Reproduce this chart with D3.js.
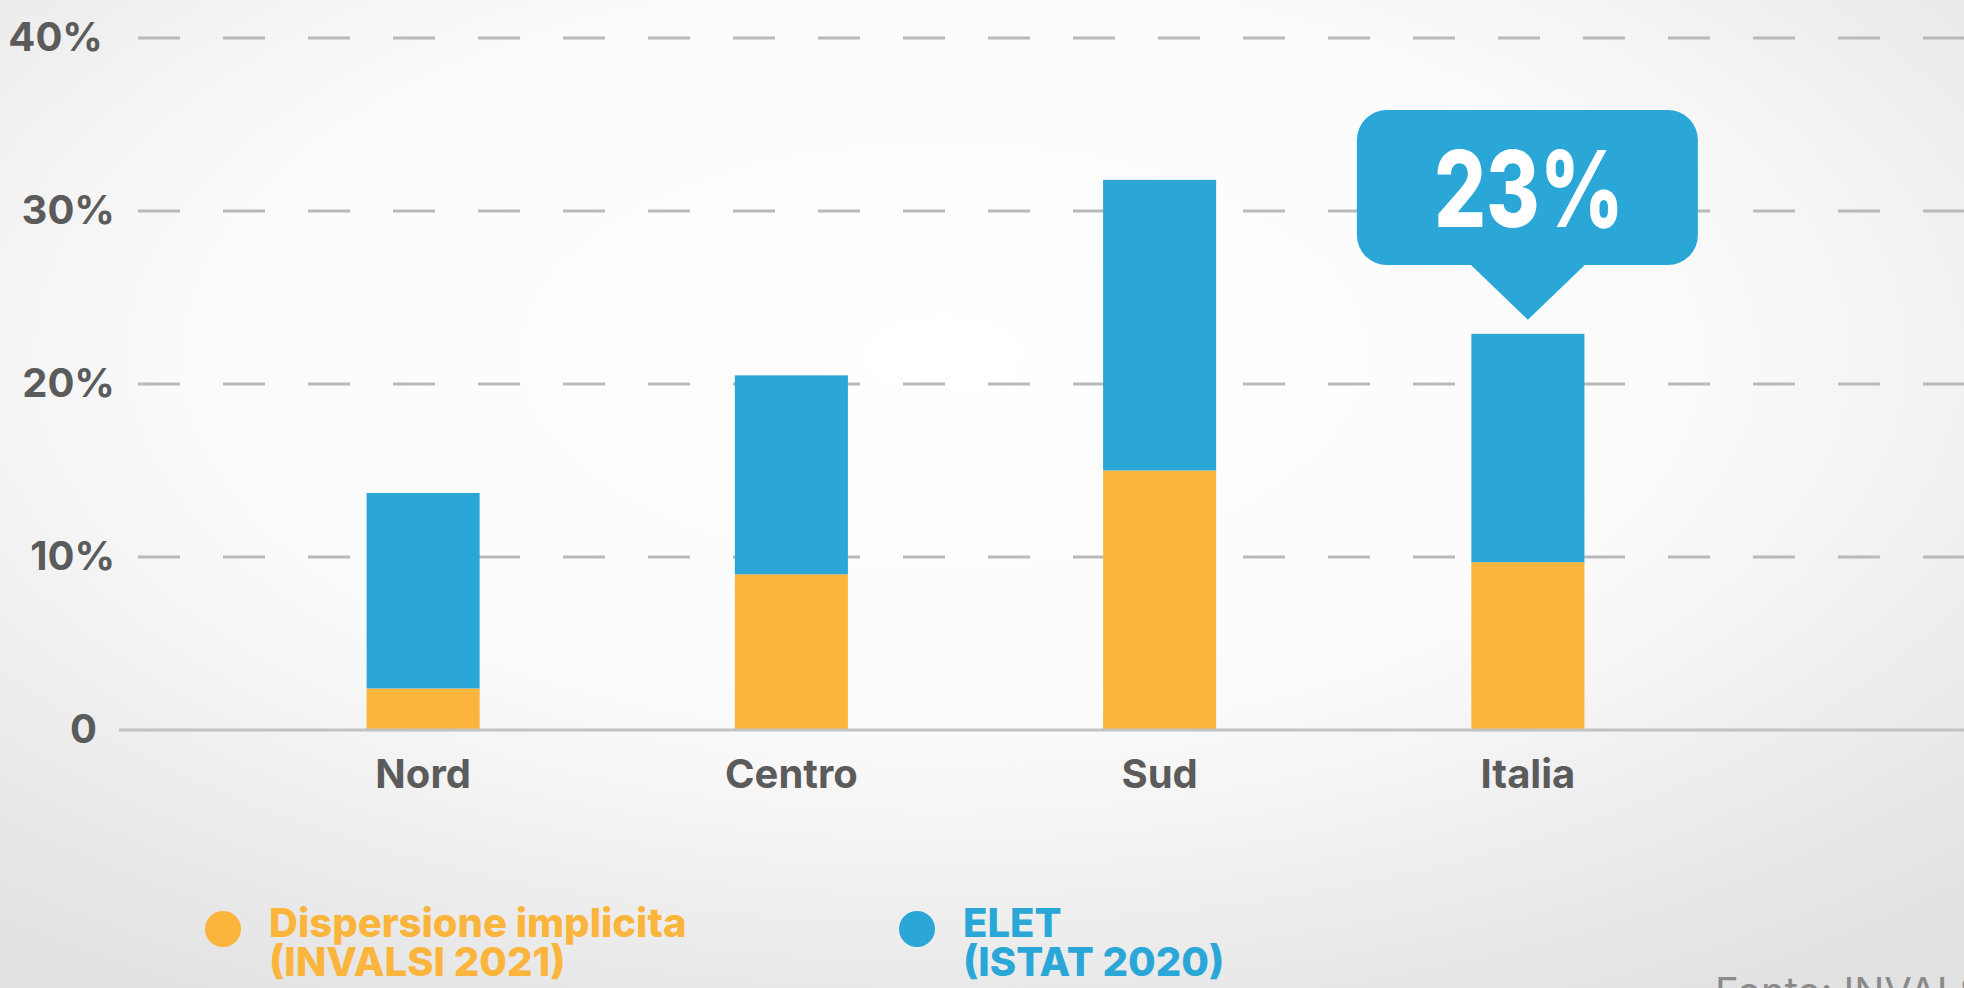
<!DOCTYPE html>
<html>
<head>
<meta charset="utf-8">
<script src="https://cdn.jsdelivr.net/npm/d3@7"></script>
<style>
  html, body { margin: 0; padding: 0; overflow: hidden; }
  svg { display: block; font-family: Inter, "Noto Sans", sans-serif; }
</style>
</head>
<body>
<svg width="1964" height="988"></svg>
<script>
const svg = d3.select("svg");
const larghezza = 1964;
const altezza = 988;

// dati
const aree = ["Nord", "Centro", "Sud", "Italia"];
const dispersioneImplicita = [2.4, 9.0, 15.0, 9.7];   // INVALSI 2021
const elet = [11.3, 11.5, 16.8, 13.2];                 // ISTAT 2020
const tickY = [0, 10, 20, 30, 40];
const etichettaTotale = "23%";
const legenda = [
  { righe: ["Dispersione implicita", "(INVALSI 2021)"], colore: "#fbb53c" },
  { righe: ["ELET", "(ISTAT 2020)"], colore: "#2aa7d6" }
];
const fonte = "Fonte: INVALSI, ISTAT";

const arancio = "#fbb53c";
const blu = "#2aa7d6";

// sfondo grigio chiaro con centro bianco
const defs = svg.append("defs");
const grad = defs.append("radialGradient")
  .attr("id", "sfondo")
  .attr("cx", "48%").attr("cy", "36%").attr("r", "75%");
grad.append("stop").attr("offset", "0%").attr("stop-color", "#ffffff");
grad.append("stop").attr("offset", "50%").attr("stop-color", "#fbfbfb");
grad.append("stop").attr("offset", "100%").attr("stop-color", "#e2e2e2");
svg.append("rect").attr("width", larghezza).attr("height", altezza).attr("fill", "url(#sfondo)");

// scale
const x = d3.scaleBand().domain(aree).range([239, 1712]).paddingInner(0.693).paddingOuter(0.3465);
const y = d3.scaleLinear().domain([0, 40]).range([730, 38]);

// griglia tratteggiata
svg.append("g")
  .selectAll("line")
  .data(tickY.filter(d => d > 0))
  .join("line")
  .attr("x1", 138)
  .attr("x2", larghezza)
  .attr("y1", d => y(d))
  .attr("y2", d => y(d))
  .attr("stroke", "#b9b9b9")
  .attr("stroke-width", 3)
  .attr("stroke-dasharray", "42 43");

// etichette asse y
const assey = svg.append("g")
  .attr("transform", "translate(115,0)")
  .call(d3.axisLeft(y).tickValues(tickY).tickSize(0).tickPadding(0)
    .tickFormat(d => d === 0 ? "0" : d + "%"));
assey.select(".domain").remove();
assey.selectAll("text")
  .attr("font-family", "Inter")
  .attr("font-size", 40)
  .attr("font-weight", 700)
  .attr("fill", "#5b5b5b")
  .attr("dx", d => d === 0 ? -18 : (d === 40 ? -12 : 0));

// barre impilate
const dati = aree.map((a, i) => ({ area: a, arancio: dispersioneImplicita[i], blu: elet[i] }));
const serie = d3.stack().keys(["arancio", "blu"])(dati);
const colori = { arancio: arancio, blu: blu };

svg.append("g")
  .selectAll("g")
  .data(serie)
  .join("g")
  .attr("fill", d => colori[d.key])
  .selectAll("rect")
  .data(d => d)
  .join("rect")
  .attr("x", d => x(d.data.area))
  .attr("y", d => y(d[1]))
  .attr("width", x.bandwidth())
  .attr("height", d => y(d[0]) - y(d[1]));

// linea di base
svg.append("line")
  .attr("x1", 119).attr("x2", larghezza)
  .attr("y1", y(0)).attr("y2", y(0))
  .attr("stroke", "#c2c2c2")
  .attr("stroke-width", 3);

// etichette asse x
const assex = svg.append("g")
  .attr("transform", `translate(0,${y(0)})`)
  .call(d3.axisBottom(x).tickSize(0).tickPadding(30));
assex.select(".domain").remove();
assex.selectAll("text")
  .attr("font-family", "Inter")
  .attr("font-size", 40)
  .attr("font-weight", 700)
  .attr("fill", "#5b5b5b");

// fumetto sopra Italia
const iIt = aree.indexOf("Italia");
const cx = x("Italia") + x.bandwidth() / 2;
const totIt = dispersioneImplicita[iIt] + elet[iIt];
const punta = y(totIt) - 14;
const fumetto = svg.append("g");
fumetto.append("rect")
  .attr("x", cx - 171).attr("y", 110)
  .attr("width", 341).attr("height", 155)
  .attr("rx", 30)
  .attr("fill", blu);
fumetto.append("path")
  .attr("d", `M${cx - 60},262 L${cx + 60},262 L${cx},${punta} Z`)
  .attr("fill", blu);
fumetto.append("text")
  .attr("x", cx - 94).attr("y", 227)
  .attr("font-family", "Inter")
  .attr("font-size", 106)
  .attr("font-weight", 800)
  .attr("textLength", 190)
  .attr("lengthAdjust", "spacingAndGlyphs")
  .attr("fill", "#ffffff")
  .text(etichettaTotale);

// legenda
const posLegenda = [223, 917];
const voci = svg.append("g")
  .selectAll("g")
  .data(legenda)
  .join("g")
  .attr("transform", (d, i) => `translate(${posLegenda[i]},929)`);
voci.append("circle").attr("r", 18).attr("fill", d => d.colore);
voci.append("text")
  .attr("font-family", "Inter")
  .attr("font-size", 40)
  .attr("font-weight", 800)
  .attr("fill", d => d.colore)
  .selectAll("tspan")
  .data(d => d.righe)
  .join("tspan")
  .attr("x", 46)
  .attr("y", (d, i) => 8 + i * 39)
  .text(d => d);

// fonte, tagliata in basso
svg.append("text")
  .attr("x", 1715).attr("y", 1006)
  .attr("font-family", "Inter")
  .attr("font-size", 40)
  .attr("font-weight", 400)
  .attr("fill", "#8a8a8a")
  .text(fonte);
</script>
</body>
</html>
